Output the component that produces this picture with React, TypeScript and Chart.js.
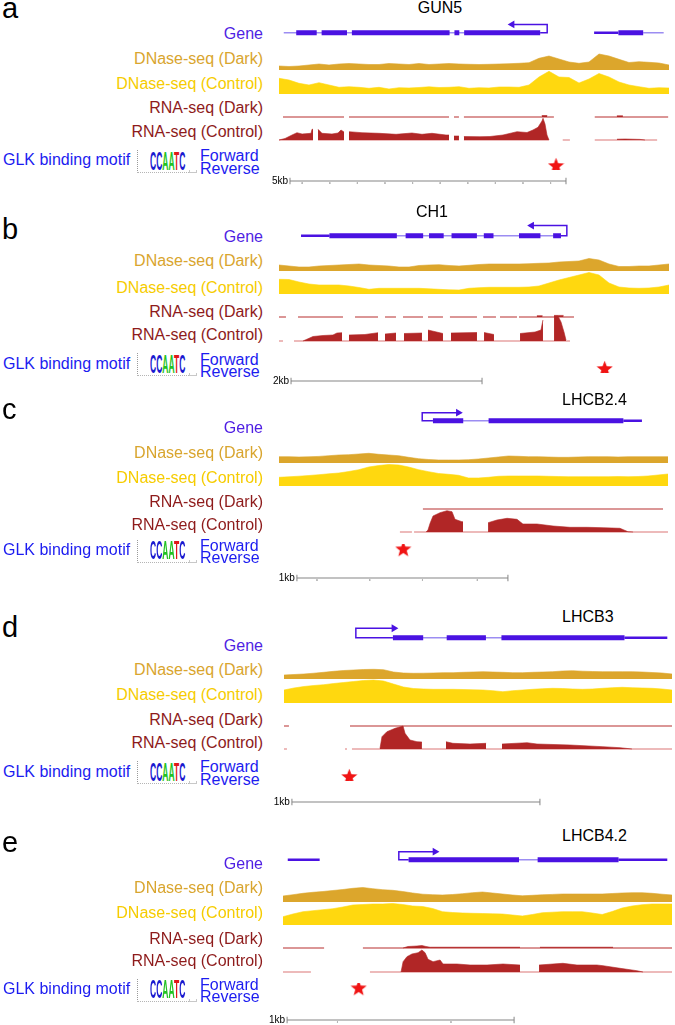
import React, { useEffect, useRef } from 'react';
import { Chart, registerables } from 'chart.js';
Chart.register(...registerables);

const FONT = '"Liberation Sans", Arial, Helvetica, sans-serif';

// ---------------- labels ----------------
const TRACK_LABELS = ['Gene', 'DNase-seq (Dark)', 'DNase-seq (Control)', 'RNA-seq (Dark)', 'RNA-seq (Control)'];
const LABEL_COLORS = ['#4f1fe3', '#d9a52e', '#f6cc00', '#8e1b1b', '#8e1b1b'];
const MOTIF_LABEL = 'GLK binding motif';
const MOTIF_LETTERS = ['C', 'C', 'A', 'A', 'T', 'C'];
const MOTIF_COLORS = ['#1a1ad0', '#1a1ad0', '#22c222', '#22c222', '#e01818', '#1a1ad0'];
const GENE_NAMES = ['GUN5', 'CH1', 'LHCB2.4', 'LHCB3', 'LHCB4.2'];
const PANEL_LETTERS = ['a', 'b', 'c', 'd', 'e'];
const SCALE_LABELS = ['5kb', '2kb', '1kb', '1kb', '1kb'];

// ---------------- data (x in kb from the left edge of each panel's tracks) ----------------
type P = [number, number] | null;

// a — GUN5
const A_INTRON = [[0, 4.76], [6.67, 7.05]];
const A_UTR = [[5.76, 6.21]];
const A_CDS = [[0.236, 0.616], [0.707, 1.178], [1.268, 3.08], [3.17, 3.26], [3.35, 4.76], [6.21, 6.67]];
const A_TSS = [4.76, 4.89, 4.24];
const A_DNASE_DARK = [4, 3.5, 4, 5, 6, 5, 6, 6.5, 6, 5.5, 5.5, 6.5, 6, 5.5, 6.5, 5.5, 6, 6.5, 6, 5.7, 5.5, 5.7, 6, 6.3, 6.7, 7.3, 11.7, 14, 11, 8, 6.7, 8, 16, 14, 10.7, 7.5, 8.3, 7.7, 7, 5];
const A_DNASE_CTRL = [15.7, 14, 10.7, 9, 11.3, 9, 6.7, 7.3, 6.7, 5.7, 6.7, 5, 6.3, 6, 6.5, 7.2, 6.5, 6.7, 7.3, 5.7, 6.3, 6, 7, 7, 6.7, 9, 17, 22.7, 17, 16.5, 11, 15, 20.5, 17, 12, 9, 7.3, 5.7, 6.3, 6];
const A_RNA_DARK_BASE = [[0.072, 1.178], [1.268, 3.08], [3.17, 3.26], [3.35, 4.98], [5.72, 7.05]];
const A_RNA_DARK: P[] = [[4.76, 1.5], [4.86, 1.5], null, [6.12, 1.2], [6.23, 1.2]];
const A_RNA_CTRL_BASE = [[0, 0.616], [0.707, 1.178], [1.268, 3.08], [3.17, 3.26], [3.35, 4.89], [5.14, 5.27], [5.72, 6.85]];
const A_RNA_CTRL: P[] = [[0, 0], [0.109, 1.5], [0.236, 5], [0.326, 7.3], [0.417, 6], [0.58, 6.7], [0.598, 10.7], [0.616, 10.7], null,
  [0.707, 10.7], [0.779, 6.7], [0.96, 6], [1.069, 7], [1.123, 10], [1.178, 8], null,
  [1.268, 8.3], [1.504, 7.3], [1.812, 6.7], [2.12, 5.7], [2.409, 7], [2.591, 5.7], [2.772, 6.7], [3.025, 5], [3.08, 5], null,
  [3.17, 4], [3.26, 4], null,
  [3.35, 3.5], [3.641, 3.3], [3.822, 3.5], [4.058, 5], [4.312, 8.3], [4.493, 7.5], [4.601, 10], [4.692, 12.7], [4.764, 19], [4.783, 21.7], [4.819, 16], [4.855, 5], [4.891, 0], null,
  [6.123, 0.8], [6.268, 1], [6.54, 0.6], [6.63, 0]];
const A_STAR = [5.09, 0];
const A_SCALE = [0.199, 5.199];
const A_TICKS = [0.42, 0.92, 1.42, 1.92, 2.42, 2.92, 3.42, 3.92, 4.42, 4.92];

// b — CH1
const B_INTRON = [[0.188, 2.974]];
const B_UTR = [[0.188, 0.492]];
const B_CDS = [[0.492, 1.215], [1.309, 1.497], [1.56, 1.717], [1.801, 2.073], [2.147, 2.251], [2.524, 2.754], [2.89, 2.974]];
const B_TSS = [2.974, 3.037, 2.66];
const B_DNASE_DARK = [6, 5, 4, 4, 5, 5.5, 6, 6.5, 7, 6, 5.5, 5, 4, 4, 5.5, 6, 6.3, 5.5, 5, 5.7, 6.5, 7, 7, 7, 7, 7.3, 7.7, 8, 9, 9.5, 10, 12.5, 11, 7, 4.5, 4.5, 5, 5, 6, 7];
const B_DNASE_CTRL = [14.7, 14.5, 12, 10, 9, 9, 9, 8, 6.5, 4.7, 5.7, 5.7, 5.7, 5.7, 5.7, 5.2, 4.7, 4.2, 4, 5.7, 6.3, 6.7, 6.7, 6.7, 6.7, 7, 8, 11, 14, 16.5, 19, 21.5, 19, 11, 7, 6, 5.7, 6, 7, 9];
const B_RNA_DARK_BASE = [[0, 0.073], [0.199, 0.67], [0.796, 1.037], [1.11, 1.225], [1.298, 1.508], [1.56, 1.717], [1.79, 2.073], [2.136, 2.272], [2.314, 2.492], [2.513, 3.089]];
const B_RNA_DARK: P[] = [[2.7, 1.3], [2.76, 1.3], null, [2.88, 1.6], [2.98, 1.6]];
const B_RNA_CTRL_BASE = [[0, 0.042], [0.157, 3.047]];
const B_RNA_CTRL: P[] = [[0.251, 0], [0.356, 4.5], [0.461, 5.5], [0.565, 6], [0.607, 8], [0.66, 8.3], null,
  [0.733, 6], [0.9, 6.5], [1.037, 8.3], null,
  [1.11, 7], [1.225, 8], null,
  [1.309, 7.5], [1.497, 8], null,
  [1.56, 11], [1.717, 7.5], null,
  [1.801, 8], [2.073, 8.5], null,
  [2.147, 8.5], [2.251, 6.5], null,
  [2.524, 7.5], [2.681, 9], [2.743, 11], [2.764, 21], null,
  [2.88, 25], [2.921, 25], [2.953, 19], [2.984, 9], [3.005, 1]];
const B_STAR = [3.476, 0];
const B_SCALE = [0.126, 2.126];
const B_TICKS: number[] = [];

// c — LHCB2.4
const C_INTRON = [[0.725, 1.649]];
const C_UTR = [[1.649, 1.739]];
const C_CDS = [[0.725, 0.872], [0.995, 1.649]];
const C_TSS = [0.725, 0.673, 0.848];
const C_DNASE_DARK = [6.3, 6.3, 6, 6.2, 6.6, 7.3, 8, 8.3, 9, 9.7, 8.7, 8, 7.3, 5.7, 4.3, 3.5, 3, 3, 3, 3.3, 4, 5, 6, 7, 6.7, 6.3, 6.3, 6, 5.7, 5.7, 6, 6.3, 6.3, 6.3, 6, 6.3, 6.3, 6.3, 6.3, 6.3];
const C_DNASE_CTRL = [8.7, 9.2, 9.8, 10.5, 11.3, 12.2, 13, 14.5, 16.3, 19, 20.5, 21.5, 21, 19, 16.3, 14.3, 12.5, 11.7, 10.7, 8, 8, 8.7, 9.7, 10, 10, 10, 10, 9.7, 9.5, 9.3, 9.3, 9.3, 9.3, 9.3, 9.5, 9.3, 9.5, 10, 11, 12];
const C_RNA_DARK_BASE = [[0.682, 1.82]];
const C_RNA_DARK: P[] = [];
const C_RNA_CTRL_BASE = [[0.573, 0.63], [0.64, 1.844]];
const C_RNA_CTRL: P[] = [[0.697, 0], [0.706, 2], [0.716, 8.7], [0.73, 16], [0.763, 19.3], [0.796, 21.3], [0.82, 20.3], [0.834, 12.7], [0.867, 10.3], [0.872, 10.3], null,
  [0.991, 9.3], [1.033, 12], [1.081, 13.7], [1.128, 12.7], [1.156, 8], [1.223, 8], [1.299, 6], [1.379, 4.7], [1.46, 4.7], [1.536, 4.3], [1.616, 3.7], [1.654, 0.3], [1.678, 0]];
const C_STAR = [0.573, 1];
const C_SCALE = [0.085, 1.085];
const C_TICKS = [0.18, 0.43, 0.68, 0.94];

// d — LHCB3
const D_INTRON = [[0.431, 1.387]];
const D_UTR = [[1.387, 1.565]];
const D_CDS = [[0.431, 0.556], [0.653, 0.815], [0.879, 1.387]];
const D_TSS = [0.431, 0.278, 0.435];
const D_DNASE_DARK = [4, 4.5, 5, 5.8, 6.7, 7.7, 8.5, 9, 9.5, 9.7, 9.3, 7, 6, 5.7, 5.8, 6, 6.3, 6.3, 6.7, 7, 7.3, 7, 6.7, 6.3, 6.3, 6.7, 7, 7.3, 8, 8.3, 7.8, 7.5, 7.3, 7.3, 7.3, 7.3, 7, 6.5, 6, 5];
const D_DNASE_CTRL = [13, 15, 16.5, 17.5, 18.3, 19.5, 20.5, 21.5, 22.5, 23, 22, 19, 16, 14.5, 14, 13.7, 13.7, 13.7, 13.5, 13.2, 13, 12.3, 11.3, 12.3, 13, 13.7, 14.3, 14.7, 14.5, 14, 13.7, 14, 14.7, 15.3, 15.7, 15.3, 15, 14.7, 14, 13];
const D_RNA_DARK_BASE = [[0, 0.02], [0.266, 1.565]];
const D_RNA_DARK: P[] = [];
const D_RNA_CTRL_BASE = [[0, 0.012], [0.246, 0.254], [0.274, 1.565]];
const D_RNA_CTRL: P[] = [[0.387, 0.5], [0.395, 12.3], [0.415, 17.3], [0.448, 20.7], [0.48, 23], [0.488, 15.7], [0.508, 9], [0.536, 7.3], [0.556, 7], null,
  [0.653, 7.3], [0.681, 5.7], [0.75, 5], [0.815, 5.7], null,
  [0.879, 5], [0.98, 6.3], [1.02, 5], [1.153, 4], [1.286, 2.3], [1.355, 1.3], [1.403, 0]];
const D_STAR = [0.238, 0];
const D_SCALE = [0.032, 1.032];
const D_TICKS: number[] = [];

// e — LHCB4.2
const E_INTRON = [[0.546, 1.493]];
const E_UTR = [[0, 0.145], [1.493, 1.714]];
const E_CDS = [[0.546, 1.044], [1.128, 1.493]];
const E_TSS = [0.546, 0.502, 0.665];
const E_DNASE_DARK = [6, 7.3, 8.7, 9.7, 10.5, 11.5, 12.5, 13.7, 14.5, 13.3, 12.3, 11.7, 10.5, 9, 7.8, 7.3, 7, 7.5, 8.3, 9.3, 10, 9, 8, 7, 6.2, 6.7, 7.2, 7.6, 8, 8, 8, 8, 8, 8.5, 9, 9.3, 9.3, 8.7, 7.8, 7];
const E_DNASE_CTRL = [8.3, 11, 13.3, 14.3, 15.3, 16.3, 18, 20, 20.5, 21, 21, 21.5, 20.5, 19, 18.5, 16.5, 13.3, 12.5, 12, 11.7, 11.5, 11.2, 11, 10, 9, 10.5, 12.3, 12.8, 13.3, 13.3, 13.3, 12, 10.5, 13.5, 17, 19, 20.3, 21, 21, 21];
const E_RNA_DARK_BASE = [[0, 0.181], [0.352, 1.714]];
const E_RNA_DARK: P[] = [[0.529, 0], [0.55, 1.5], [0.59, 2], [0.612, 2.5], [0.63, 1.5], [0.648, 0.8], [1.044, 0.8], null, [1.132, 0.8], [1.454, 0.8]];
const E_RNA_CTRL_BASE = [[0, 0.123], [0.383, 1.714]];
const E_RNA_CTRL: P[] = [[0.52, 0], [0.529, 10.3], [0.546, 15.3], [0.568, 18], [0.595, 19.3], [0.612, 22], [0.626, 19.3], [0.639, 12.7], [0.661, 10.3], [0.692, 12], [0.705, 8], [0.767, 8], [0.824, 7], [0.899, 7], [0.969, 8], [1.044, 7], null,
  [1.128, 7], [1.189, 8], [1.233, 8.7], [1.295, 7], [1.383, 7], [1.41, 6.3], [1.485, 3.7], [1.559, 1.3], [1.586, 0]];
const E_STAR = [0.308, 1];
const E_SCALE = [0.018, 1.018];
const E_TICKS = [0.24, 0.74];

// ---------------- colours ----------------
const GENE_C = '#4a12e2';
const INTRON_C = '#9c8df2';
const DARK_C = '#dca62c';
const CTRL_C = '#ffd80f';
const RNA_C = '#b12626';
const RNA_DARK_LINE = '#cf7474';
const RNA_BASE_LINE = '#e8a4a4';
const MOTIF_BLUE = '#1c1cf0';
const BAR_C = '#858585';

// ---------------- layout ----------------
interface Layout {
  letterBase: number; nameX: number; nameAlign: 'left' | 'center'; nameBase: number;
  x0: number; x1: number; pxPerKb: number; geneY: number; rise: number;
  darkBase: number; darkSpan: number; ctrlBase: number; ctrlSpan: number;
  rnaDarkBase: number; rnaCtrlBase: number; rnaCtrlSpan: number;
  labelBases: number[]; glkBase: number; barY: number;
}
const LAYOUTS: Layout[] = [
  { letterBase: 18.3, nameX: 440, nameAlign: 'center', nameBase: 14, x0: 279, x1: 669, pxPerKb: 55.2, geneY: 35, rise: 1.76,
    darkBase: 70, darkSpan: 20, ctrlBase: 94, ctrlSpan: 24, rnaDarkBase: 116.7, rnaCtrlBase: 140, rnaCtrlSpan: 22,
    labelBases: [40, 65, 90, 114, 137.3], glkBase: 166, barY: 181 },
  { letterBase: 240, nameX: 432, nameAlign: 'center', nameBase: 218, x0: 279, x1: 669, pxPerKb: 95.5, geneY: 238, rise: 2.14,
    darkBase: 271, darkSpan: 14, ctrlBase: 294, ctrlSpan: 23, rnaDarkBase: 317, rnaCtrlBase: 341, rnaCtrlSpan: 26,
    labelBases: [243, 266.6, 293.3, 317.3, 340.6], glkBase: 369.3, barY: 381 },
  { letterBase: 420, nameX: 562, nameAlign: 'left', nameBase: 406, x0: 279, x1: 668, pxPerKb: 211, geneY: 423, rise: 1.71,
    darkBase: 463, darkSpan: 12, ctrlBase: 486, ctrlSpan: 23, rnaDarkBase: 509, rnaCtrlBase: 532, rnaCtrlSpan: 22,
    labelBases: [433.7, 458.7, 483.7, 507.7, 531], glkBase: 555.5, barY: 578 },
  { letterBase: 638, nameX: 562, nameAlign: 'left', nameBase: 623, x0: 284, x1: 672, pxPerKb: 248, geneY: 640, rise: 2,
    darkBase: 679, darkSpan: 12, ctrlBase: 703, ctrlSpan: 24, rnaDarkBase: 726, rnaCtrlBase: 749, rnaCtrlSpan: 24,
    labelBases: [651.7, 675.2, 700.2, 725.2, 748.2], glkBase: 777.2, barY: 802 },
  { letterBase: 853, nameX: 562, nameAlign: 'left', nameBase: 842, x0: 283, x1: 672, pxPerKb: 227, geneY: 862, rise: 1.71,
    darkBase: 902, darkSpan: 16, ctrlBase: 925, ctrlSpan: 22, rnaDarkBase: 948, rnaCtrlBase: 972, rnaCtrlSpan: 23,
    labelBases: [869.7, 893.2, 918.2, 944.6, 966.6], glkBase: 994.6, barY: 1020 },
];

interface PanelData {
  intron: number[][]; utr: number[][]; cds: number[][]; tss: number[];
  dnaseDark: number[]; dnaseCtrl: number[];
  rnaDarkBase: number[][]; rnaDark: P[]; rnaCtrlBase: number[][]; rnaCtrl: P[];
  star: number[]; scale: number[]; ticks: number[];
}
const PANELS: PanelData[] = [
  { intron: A_INTRON, utr: A_UTR, cds: A_CDS, tss: A_TSS, dnaseDark: A_DNASE_DARK, dnaseCtrl: A_DNASE_CTRL, rnaDarkBase: A_RNA_DARK_BASE, rnaDark: A_RNA_DARK, rnaCtrlBase: A_RNA_CTRL_BASE, rnaCtrl: A_RNA_CTRL, star: A_STAR, scale: A_SCALE, ticks: A_TICKS },
  { intron: B_INTRON, utr: B_UTR, cds: B_CDS, tss: B_TSS, dnaseDark: B_DNASE_DARK, dnaseCtrl: B_DNASE_CTRL, rnaDarkBase: B_RNA_DARK_BASE, rnaDark: B_RNA_DARK, rnaCtrlBase: B_RNA_CTRL_BASE, rnaCtrl: B_RNA_CTRL, star: B_STAR, scale: B_SCALE, ticks: B_TICKS },
  { intron: C_INTRON, utr: C_UTR, cds: C_CDS, tss: C_TSS, dnaseDark: C_DNASE_DARK, dnaseCtrl: C_DNASE_CTRL, rnaDarkBase: C_RNA_DARK_BASE, rnaDark: C_RNA_DARK, rnaCtrlBase: C_RNA_CTRL_BASE, rnaCtrl: C_RNA_CTRL, star: C_STAR, scale: C_SCALE, ticks: C_TICKS },
  { intron: D_INTRON, utr: D_UTR, cds: D_CDS, tss: D_TSS, dnaseDark: D_DNASE_DARK, dnaseCtrl: D_DNASE_CTRL, rnaDarkBase: D_RNA_DARK_BASE, rnaDark: D_RNA_DARK, rnaCtrlBase: D_RNA_CTRL_BASE, rnaCtrl: D_RNA_CTRL, star: D_STAR, scale: D_SCALE, ticks: D_TICKS },
  { intron: E_INTRON, utr: E_UTR, cds: E_CDS, tss: E_TSS, dnaseDark: E_DNASE_DARK, dnaseCtrl: E_DNASE_CTRL, rnaDarkBase: E_RNA_DARK_BASE, rnaDark: E_RNA_DARK, rnaCtrlBase: E_RNA_CTRL_BASE, rnaCtrl: E_RNA_CTRL, star: E_STAR, scale: E_SCALE, ticks: E_TICKS },
];

// ---------------- helpers ----------------
function even(values: number[], xMax: number) {
  return values.map((v, i) => ({ x: (i * xMax) / (values.length - 1), y: v }));
}
function pairs(pts: P[]) {
  let last = 0;
  return pts.map((p) => {
    if (p) { last = p[0]; return { x: p[0], y: p[1] }; }
    return { x: last, y: null as any };
  });
}
function segs(list: number[][], y = 0) {
  const out: any[] = [];
  list.forEach(([s, e]) => { out.push({ x: s, y }, { x: e, y }, { x: e, y: null }); });
  return out;
}
function vsegs(xs: number[], y0: number, y1: number) {
  const out: any[] = [];
  xs.forEach((x) => { out.push({ x, y: y0 }, { x, y: y1 }, { x, y: null }); });
  return out;
}

let starImg: HTMLCanvasElement | null = null;
function getStar() {
  if (starImg) return starImg;
  const size = 17;
  const c = document.createElement('canvas');
  c.width = size; c.height = size;
  const g = c.getContext('2d')!;
  const R = size / 2, r = R * 0.42, cx = R, cy = R + 0.7;
  g.beginPath();
  for (let i = 0; i < 10; i++) {
    const a = -Math.PI / 2 + (i * Math.PI) / 5;
    const rad = i % 2 ? r : R;
    g.lineTo(cx + rad * Math.cos(a), cy + rad * Math.sin(a));
  }
  g.closePath();
  g.fillStyle = '#f01414';
  g.fill();
  starImg = c;
  return c;
}

interface BoxProps { left: number; top: number; width: number; height: number; xMax: number; yMin: number; yMax: number; makeDatasets: () => any[]; }
function ChartBox({ left, top, width, height, xMax, yMin, yMax, makeDatasets }: BoxProps) {
  const ref = useRef<HTMLCanvasElement>(null);
  useEffect(() => {
    const chart = new Chart(ref.current!, {
      type: 'line',
      data: { datasets: makeDatasets() },
      options: {
        animation: false, responsive: false, maintainAspectRatio: false, events: [],
        layout: { padding: 0 },
        scales: {
          x: { type: 'linear', min: 0, max: xMax, display: false },
          y: { type: 'linear', min: yMin, max: yMax, display: false },
        },
        plugins: { legend: { display: false }, tooltip: { enabled: false } },
        elements: { point: { radius: 0 }, line: { tension: 0 } },
      } as any,
    });
    return () => chart.destroy();
  }, []);
  const w = Math.round(width), h = Math.round(height);
  return <canvas ref={ref} width={w} height={h} style={{ position: 'absolute', left, top, width: w, height: h }} />;
}

function Txt({ x, base, size, color, align = 'left', children, bold }: any) {
  const W = 400;
  const top = base - 0.8465 * size;
  const left = align === 'left' ? x : align === 'right' ? x - W : x - W / 2;
  return (
    <div style={{ position: 'absolute', top, left, width: W, textAlign: align, fontSize: size, lineHeight: `${size}px`, color, whiteSpace: 'nowrap', fontWeight: bold ? 'bold' : 'normal', pointerEvents: 'none' }}>
      {children}
    </div>
  );
}

function Panel({ L, D, idx }: { L: Layout; D: PanelData; idx: number }) {
  const width = L.x1 - L.x0;
  const xMax = width / L.pxPerKb;
  const line = (data: any[], color: string, w: number) => ({ data, borderColor: color, borderWidth: w, pointRadius: 0, fill: false, spanGaps: false });
  const area = (data: any[], color: string) => ({ data, borderColor: color, backgroundColor: color, borderWidth: 0.6, pointRadius: 0, fill: 'origin', spanGaps: false });

  const [cdsEdge, tss, arrowTo] = D.tss;
  // first dataset is drawn on top in Chart.js
  const geneSets = () => [
    { data: [{ x: arrowTo, y: L.rise }], showLine: false, pointRadius: 4.5, pointStyle: 'triangle', pointRotation: arrowTo < tss ? -90 : 90, pointBackgroundColor: GENE_C, pointBorderColor: GENE_C, pointBorderWidth: 0 },
    line([{ x: cdsEdge, y: 0 }, { x: tss, y: 0 }, { x: tss, y: L.rise }, { x: arrowTo, y: L.rise }], GENE_C, 1.5),
    line(segs(D.cds), GENE_C, 5),
    line(segs(D.utr), GENE_C, 2.6),
    line(segs(D.intron), INTRON_C, 1.3),
  ];

  const coverage = (base: number, span: number, build: () => any[]) => (
    <ChartBox left={L.x0} top={base - span} width={width} height={span + 3} xMax={xMax} yMin={-3} yMax={span} makeDatasets={build} />
  );

  const H = 33, pad = 10, rowGap = 12.5;
  const revCenter = L.glkBase + 2.8;
  const motifTop = revCenter - (H - pad);
  const barStartPx = L.x0 + D.scale[0] * L.pxPerKb;

  return (
    <>
      <Txt x={2} base={L.letterBase} size={29} color="#000">{PANEL_LETTERS[idx]}</Txt>
      <Txt x={L.nameX} base={L.nameBase} size={16} color="#000" align={L.nameAlign}>{GENE_NAMES[idx]}</Txt>
      {TRACK_LABELS.map((t, i) => (
        <Txt key={t} x={263} base={L.labelBases[i]} size={16} color={LABEL_COLORS[i]} align="right">{t}</Txt>
      ))}
      <Txt x={3} base={L.glkBase} size={16} color={MOTIF_BLUE}>{MOTIF_LABEL}</Txt>
      <Txt x={200} base={L.glkBase - 4.2} size={16} color={MOTIF_BLUE}>Forward</Txt>
      <Txt x={200} base={L.glkBase + 8.3} size={16} color={MOTIF_BLUE}>Reverse</Txt>
      {/* motif logo */}
      <div style={{ position: 'absolute', left: 137, top: L.glkBase - 16, width: 57, height: 22, borderLeft: '1px dotted #9a9a9a', borderBottom: '1px dotted #b5b5b5' }} />
      <div style={{ position: 'absolute', left: 189, top: L.glkBase + 4, width: 6, height: 2, border: '1px solid #c8c8c8', borderTop: 'none' }} />
      <div style={{ position: 'absolute', left: 150, top: L.glkBase + 4 - 0.8465 * 25, fontSize: 25, lineHeight: '25px', fontWeight: 'bold', whiteSpace: 'nowrap', transform: 'scaleX(0.34)', transformOrigin: 'left top' }}>
        {MOTIF_LETTERS.map((ch, i) => <span key={i} style={{ color: MOTIF_COLORS[i] }}>{ch}</span>)}
      </div>

      {/* gene model */}
      <ChartBox left={L.x0} top={L.geneY - 21} width={width} height={28} xMax={xMax} yMin={-1} yMax={3} makeDatasets={geneSets} />
      {/* DNase */}
      {coverage(L.darkBase, L.darkSpan, () => [area(even(D.dnaseDark, xMax), DARK_C)])}
      {coverage(L.ctrlBase, L.ctrlSpan, () => [area(even(D.dnaseCtrl, xMax), CTRL_C)])}
      {/* RNA */}
      {coverage(L.rnaDarkBase, 5, () => [area(pairs(D.rnaDark), RNA_C), line(segs(D.rnaDarkBase), RNA_DARK_LINE, 1.3)])}
      {coverage(L.rnaCtrlBase, L.rnaCtrlSpan, () => [area(pairs(D.rnaCtrl), RNA_C), line(segs(D.rnaCtrlBase), RNA_BASE_LINE, 1.3)])}
      {/* motif hit */}
      <ChartBox left={L.x0} top={motifTop} width={width} height={H} xMax={xMax} yMin={-pad / rowGap} yMax={(H - pad) / rowGap}
        makeDatasets={() => [{ data: [{ x: D.star[0], y: D.star[1] }], showLine: false, pointStyle: getStar(), pointRadius: 8 }]} />
      {/* scale bar */}
      <ChartBox left={L.x0} top={L.barY - 6} width={width} height={12} xMax={xMax} yMin={-1.2} yMax={1.2}
        makeDatasets={() => [
          line([{ x: D.scale[0], y: 0 }, { x: D.scale[1], y: 0 }], BAR_C, 1.2),
          line(vsegs(D.scale, -0.65, 0.65), BAR_C, 1),
          line(vsegs(D.ticks, -0.25, -0.6), '#b5b5b5', 1),
        ]} />
      <Txt x={barStartPx - 2} base={L.barY + 3.7} size={10} color="#000" align="right">{SCALE_LABELS[idx]}</Txt>
    </>
  );
}

export default function App() {
  return (
    <div style={{ position: 'absolute', left: 0, top: 0, width: 675, height: 1025, background: '#fff', overflow: 'hidden', fontFamily: FONT }}>
      {LAYOUTS.map((L, i) => <Panel key={i} L={L} D={PANELS[i]} idx={i} />)}
    </div>
  );
}
